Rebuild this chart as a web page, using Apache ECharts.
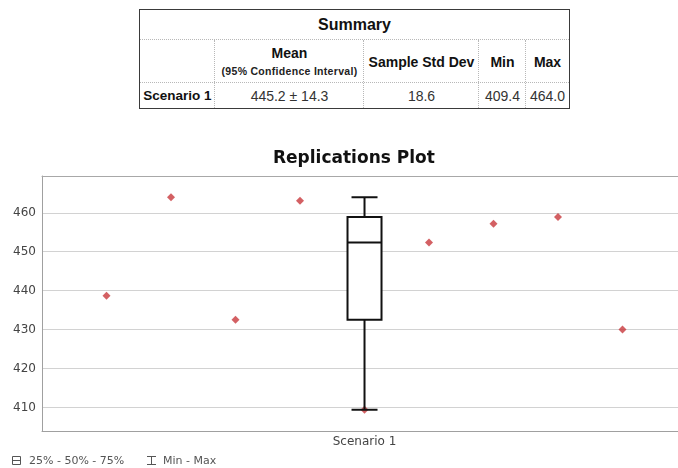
<!DOCTYPE html>
<html>
<head>
<meta charset="utf-8">
<script src="https://cdn.jsdelivr.net/npm/echarts@6/dist/echarts.min.js"></script>
<style>
  html, body { margin: 0; padding: 0; background: #fff; }
  #wrap { position: relative; width: 678px; height: 468px; overflow: hidden; }
  #chart { position: absolute; left: 0; top: 0; width: 678px; height: 468px; }
  #table { position: absolute; left: 139px; top: 9px; width: 431px; height: 100px; box-sizing: border-box;
           border: 1px solid #3a3a3a; background: #fff; font-family: "Liberation Sans", Arial, sans-serif; z-index: 5; }
  .cell { position: absolute; display: flex; flex-direction: column; align-items: center; justify-content: center; text-align: center; white-space: nowrap; }
  .hline { position: absolute; height: 0; border-top: 1px dotted #b8b8b8; }
  .vline { position: absolute; width: 0; border-left: 1px dotted #b8b8b8; }
</style>
</head>
<body>
<div id="wrap">
  <div id="chart"></div>
  <div id="table"></div>
</div>
<script>
// ---- data ----
const tableTitle = 'Summary';
const tableHeaders = ['Mean', 'Sample Std Dev', 'Min', 'Max'];
const meanSubtitle = '(95% Confidence Interval)';
const rowLabel = 'Scenario 1';
const rowValues = ['445.2 ± 14.3', '18.6', '409.4', '464.0'];

const chartTitle = 'Replications Plot';
const categories = ['Scenario 1'];
const replications = [1, 2, 3, 4, 5, 6, 7, 8, 9];
const replicationValues = [438.7, 464.0, 432.5, 463.1, 409.4, 452.4, 457.2, 458.9, 430.0];
const boxStats = [409.4, 432.5, 452.4, 458.9, 464.0]; // min, q1, median, q3, max
const yRange = [403.94, 469.46];
const xRange = [0, 9.86];
const yTickLabels = [410, 420, 430, 440, 450, 460];
const legendLabels = ['25% - 50% - 75%', 'Min - Max'];

// ---- summary table (HTML) ----
(function buildTable() {
  const t = document.getElementById('table');
  const cols = [0, 75, 224, 339, 386, 429];
  const rows = [0, 30, 73, 98];
  let html = '';
  html += '<div class="hline" style="left:0;width:429px;top:' + (rows[1] - 1) + 'px"></div>';
  html += '<div class="hline" style="left:0;width:429px;top:' + (rows[2] - 1) + 'px"></div>';
  for (let c = 1; c < cols.length - 1; c++) {
    html += '<div class="vline" style="top:' + rows[1] + 'px;height:' + (rows[3] - rows[1]) + 'px;left:' + (cols[c] - 1) + 'px"></div>';
  }
  html += '<div class="cell" style="left:0;width:429px;top:0;height:' + rows[1] + 'px;font-weight:bold;font-size:16px;color:#111">' + tableTitle + '</div>';
  for (let i = 0; i < tableHeaders.length; i++) {
    const l = cols[i + 1], w = cols[i + 2] - cols[i + 1];
    let inner = '<div style="font-weight:bold;font-size:14px;color:#111;line-height:16px">' + tableHeaders[i] + '</div>';
    if (i === 0) inner += '<div style="font-weight:bold;font-size:10.5px;color:#222;line-height:13px;margin-top:4px;letter-spacing:0.3px">' + meanSubtitle + '</div>';
    html += '<div class="cell" style="left:' + l + 'px;width:' + w + 'px;top:' + rows[1] + 'px;height:' + (rows[2] - rows[1]) + 'px">' + inner + '</div>';
  }
  html += '<div class="cell" style="left:0;width:' + cols[1] + 'px;top:' + rows[2] + 'px;height:' + (rows[3] - rows[2]) + 'px;font-weight:bold;font-size:13.5px;color:#111">' + rowLabel + '</div>';
  for (let i = 0; i < rowValues.length; i++) {
    const l = cols[i + 1], w = cols[i + 2] - cols[i + 1];
    html += '<div class="cell" style="left:' + l + 'px;width:' + w + 'px;top:' + rows[2] + 'px;height:' + (rows[3] - rows[2]) + 'px;font-size:14px;color:#333">' + rowValues[i] + '</div>';
  }
  t.innerHTML = html;
})();

// ---- chart ----
const chart = echarts.init(document.getElementById('chart'), null, { renderer: 'canvas' });
const axisFont = 'DejaVu Sans';
const categoryPos = (replications.length + 1) / 2; // box drawn at the middle of the replications
const option = {
  animation: false,
  backgroundColor: '#fff',
  title: {
    text: chartTitle,
    left: 268, top: 145,
    textStyle: { fontFamily: axisFont, fontWeight: 'bold', fontSize: 17, color: '#111' }
  },
  grid: { left: 42, top: 176, right: 0, height: 255, show: false, containLabel: false },
  xAxis: [
    {
      type: 'value', min: xRange[0], max: xRange[1], interval: 1, position: 'bottom',
      axisLine: { show: true, lineStyle: { color: '#a0a0a0' } },
      axisTick: { show: false },
      splitLine: { show: false },
      axisLabel: {
        color: '#444', fontFamily: axisFont, fontSize: 12, margin: 5,
        showMinLabel: true, showMaxLabel: false,
        formatter: function (v) { return Math.abs(v - categoryPos) < 1e-6 ? categories[0] : ''; }
      }
    },
    {
      type: 'value', min: xRange[0], max: xRange[1], position: 'top',
      axisLine: { show: true, lineStyle: { color: '#a8a8a8' } },
      axisTick: { show: false }, axisLabel: { show: false }, splitLine: { show: false }
    }
  ],
  yAxis: {
    type: 'value', min: yRange[0], max: yRange[1],
    axisLine: { show: true, lineStyle: { color: '#a0a0a0' } },
    axisTick: { show: false },
    splitLine: { show: true, lineStyle: { color: '#d2d2d2', width: 1 } },
    axisLabel: {
      color: '#444', fontFamily: axisFont, fontSize: 12, margin: 6,
      formatter: function (v) {
        for (const t of yTickLabels) { if (Math.abs(v - t) < 1e-6) return String(t); }
        return '';
      }
    }
  },
  series: [
    {
      type: 'scatter', xAxisIndex: 0, yAxisIndex: 0,
      data: replications.map((r, i) => [r, replicationValues[i]]),
      symbol: 'diamond', symbolSize: 8,
      itemStyle: { color: '#c8383c' },
      z: 2
    },
    {
      type: 'custom', xAxisIndex: 0, yAxisIndex: 0, name: categories[0],
      data: [[categoryPos].concat(boxStats)],
      z: 3,
      renderItem: function (params, api) {
        const x = api.value(0);
        const pMin = api.coord([x, api.value(1)]);
        const pQ1 = api.coord([x, api.value(2)]);
        const pMed = api.coord([x, api.value(3)]);
        const pQ3 = api.coord([x, api.value(4)]);
        const pMax = api.coord([x, api.value(5)]);
        const cx = pMin[0];
        const hb = 17, hc = 13;
        const ls = { stroke: '#111', lineWidth: 2, fill: null };
        return {
          type: 'group',
          children: [
            { type: 'line', shape: { x1: cx, y1: pQ1[1], x2: cx, y2: pMin[1] }, style: ls },
            { type: 'line', shape: { x1: cx, y1: pQ3[1], x2: cx, y2: pMax[1] }, style: ls },
            { type: 'line', shape: { x1: cx - hc, y1: pMin[1], x2: cx + hc, y2: pMin[1] }, style: ls },
            { type: 'line', shape: { x1: cx - hc, y1: pMax[1], x2: cx + hc, y2: pMax[1] }, style: ls },
            { type: 'rect', shape: { x: cx - hb, y: pQ3[1], width: hb * 2, height: pQ1[1] - pQ3[1] }, style: { stroke: '#111', lineWidth: 2, fill: '#fff' } },
            { type: 'line', shape: { x1: cx - hb, y1: pMed[1], x2: cx + hb, y2: pMed[1] }, style: ls }
          ]
        };
      }
    }
  ],
  graphic: [
    { type: 'rect', shape: { x: 12.5, y: 456.5, width: 8, height: 8 }, style: { stroke: '#555', fill: '#fff', lineWidth: 1 } },
    { type: 'line', shape: { x1: 12.5, y1: 460.5, x2: 20.5, y2: 460.5 }, style: { stroke: '#555', lineWidth: 1 } },
    { type: 'text', x: 29, y: 461, style: { text: legendLabels[0], fontFamily: axisFont, fontSize: 11, fill: '#555', verticalAlign: 'middle' } },
    { type: 'line', shape: { x1: 151.5, y1: 456, x2: 151.5, y2: 465 }, style: { stroke: '#555', lineWidth: 1 } },
    { type: 'line', shape: { x1: 147, y1: 456.5, x2: 156, y2: 456.5 }, style: { stroke: '#555', lineWidth: 1 } },
    { type: 'line', shape: { x1: 147, y1: 464.5, x2: 156, y2: 464.5 }, style: { stroke: '#555', lineWidth: 1 } },
    { type: 'text', x: 163, y: 461, style: { text: legendLabels[1], fontFamily: axisFont, fontSize: 11, fill: '#555', verticalAlign: 'middle' } }
  ]
};
chart.setOption(option);
</script>
</body>
</html>
